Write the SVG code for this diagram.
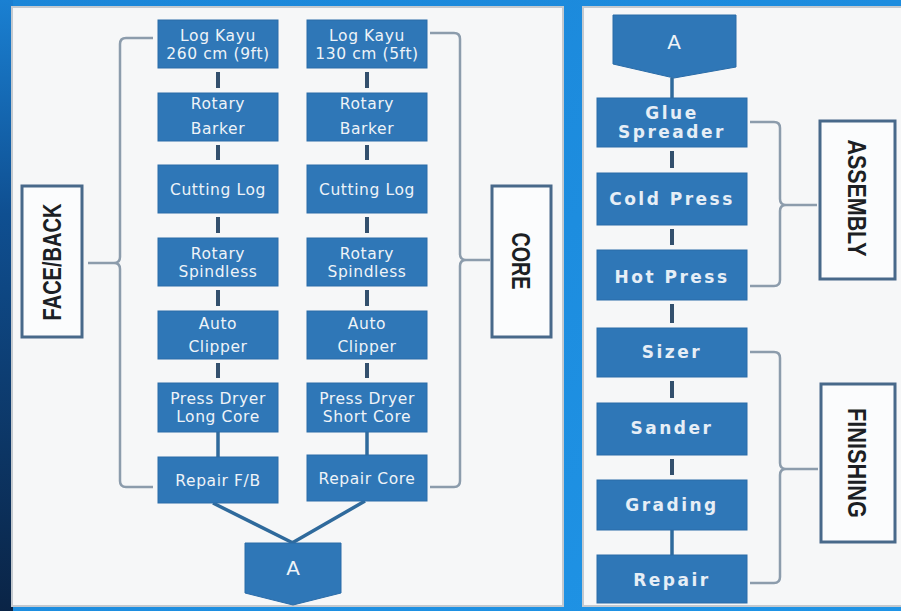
<svg xmlns="http://www.w3.org/2000/svg" width="901" height="611" viewBox="0 0 901 611">
<defs>
<linearGradient id="bg" x1="0" y1="0" x2="1" y2="1">
<stop offset="0" stop-color="#1b86d8"/>
<stop offset="1" stop-color="#1f94e6"/>
</linearGradient>
<linearGradient id="edge" x1="0" y1="0" x2="0" y2="1">
<stop offset="0" stop-color="#1a80d2"/>
<stop offset="0.35" stop-color="#0f4f91"/>
<stop offset="1" stop-color="#0a2446"/>
</linearGradient>
<style>
.box{fill:#2f77b7;stroke:#2a6ca8;stroke-width:1}
.t{font-family:"DejaVu Sans",sans-serif;font-size:15.5px;fill:#eef3f8;text-anchor:middle;letter-spacing:0.6px}
.tr{font-family:"DejaVu Sans",sans-serif;font-size:17px;font-weight:bold;fill:#e6eef6;text-anchor:middle;letter-spacing:2.5px}
.ta{font-family:"DejaVu Sans",sans-serif;font-size:20px;fill:#eef3f8;text-anchor:middle}
.lbl{fill:#fbfcfd;stroke:#48698a;stroke-width:3}
.lt{font-family:"Liberation Sans",Arial,sans-serif;font-size:25px;font-weight:bold;fill:#1c1f24;text-anchor:middle}
.br{fill:none;stroke:#8c9cac;stroke-width:2.5;stroke-linejoin:round}
.c{stroke:#33506d;stroke-width:4;fill:none}
.cs{stroke:#2f6a9c;stroke-width:3.5;fill:none}
.panel{fill:#f6f7f8;stroke:#c3c9cf;stroke-width:2}
</style>
</defs>
<rect x="0" y="0" width="901" height="611" fill="url(#bg)"/>
<rect x="0" y="0" width="13" height="611" fill="url(#edge)"/>
<rect class="panel" x="12" y="7" width="551" height="599"/>
<rect class="panel" x="583" y="7" width="330" height="599"/>

<g id="connectors">
<path class="c" d="M218,72 V88 M218,145 V160 M218,217 V233 M218,290 V306 M218,363 V378"/>
<path class="cs" d="M218,432 V457"/>
<path class="c" d="M367,72 V88 M367,145 V160 M367,217 V233 M367,290 V306 M367,363 V378"/>
<path class="cs" d="M367,432 V455"/>
<path class="cs" d="M213,503 L293,543 M365,501 L292,543"/>
<path class="cs" d="M672,78 V98"/>
<path class="c" d="M672,151 V168 M672,229 V245 M672,304 V323 M672,381 V398 M672,459 V475"/>
<path class="cs" d="M672,530 V555"/>
<path class="br" d="M153,38 H126 Q120,38 120,44 V257 Q120,263 114,263 Q120,263 120,269 V481 Q120,487 126,487 H153 M114,263 H88"/>
<path class="br" d="M430,33 H454 Q460,33 460,39 V254 Q460,260 466,260 Q460,260 460,266 V481 Q460,487 454,487 H430 M466,260 H490"/>
<path class="br" d="M750,122 H774 Q780,122 780,128 V199 Q780,205 786,205 Q780,205 780,211 V280 Q780,286 774,286 H750 M786,205 H817"/>
<path class="br" d="M750,352 H774 Q780,352 780,358 V463 Q780,469 786,469 Q780,469 780,475 V577 Q780,583 774,583 H750 M786,469 H818"/>
</g>

<g id="n-logkayu260"><rect class="box" x="158" y="20" width="120" height="48"/><text class="t" x="218" y="41">Log Kayu</text><text class="t" x="218" y="59">260 cm (9ft)</text></g>
<g id="n-rotarybarker-fb"><rect class="box" x="158" y="93" width="120" height="48"/><text class="t" x="218" y="109">Rotary</text><text class="t" x="218" y="134">Barker</text></g>
<g id="n-cuttinglog-fb"><rect class="box" x="158" y="165" width="120" height="48"/><text class="t" x="218" y="195">Cutting Log</text></g>
<g id="n-spindless-fb"><rect class="box" x="158" y="238" width="120" height="48"/><text class="t" x="218" y="259">Rotary</text><text class="t" x="218" y="277">Spindless</text></g>
<g id="n-clipper-fb"><rect class="box" x="158" y="311" width="120" height="48"/><text class="t" x="218" y="329">Auto</text><text class="t" x="218" y="352">Clipper</text></g>
<g id="n-pressdryer-long"><rect class="box" x="158" y="383" width="120" height="49"/><text class="t" x="218" y="404">Press Dryer</text><text class="t" x="218" y="422">Long Core</text></g>
<g id="n-repair-fb"><rect class="box" x="158" y="457" width="120" height="46"/><text class="t" x="218" y="486">Repair F/B</text></g>

<g id="n-logkayu130"><rect class="box" x="307" y="20" width="120" height="48"/><text class="t" x="367" y="41">Log Kayu</text><text class="t" x="367" y="59">130 cm (5ft)</text></g>
<g id="n-rotarybarker-core"><rect class="box" x="307" y="93" width="120" height="48"/><text class="t" x="367" y="109">Rotary</text><text class="t" x="367" y="134">Barker</text></g>
<g id="n-cuttinglog-core"><rect class="box" x="307" y="165" width="120" height="48"/><text class="t" x="367" y="195">Cutting Log</text></g>
<g id="n-spindless-core"><rect class="box" x="307" y="238" width="120" height="48"/><text class="t" x="367" y="259">Rotary</text><text class="t" x="367" y="277">Spindless</text></g>
<g id="n-clipper-core"><rect class="box" x="307" y="311" width="120" height="48"/><text class="t" x="367" y="329">Auto</text><text class="t" x="367" y="352">Clipper</text></g>
<g id="n-pressdryer-short"><rect class="box" x="307" y="383" width="120" height="49"/><text class="t" x="367" y="404">Press Dryer</text><text class="t" x="367" y="422">Short Core</text></g>
<g id="n-repair-core"><rect class="box" x="307" y="455" width="120" height="46"/><text class="t" x="367" y="484">Repair Core</text></g>

<g id="n-a-out"><polygon class="box" points="245,543 341,543 341,593 293,605 245,593"/><text class="ta" x="293" y="575">A</text></g>

<g id="n-facebackl"><rect class="lbl" x="22" y="186" width="60" height="151"/><text class="lt" transform="translate(61,262) rotate(-90)" x="0" y="0" textLength="117" lengthAdjust="spacingAndGlyphs">FACE/BACK</text></g>
<g id="n-corel"><rect class="lbl" x="492" y="186" width="59" height="151"/><text class="lt" transform="translate(512,261) rotate(90)" x="0" y="0" textLength="57" lengthAdjust="spacingAndGlyphs">CORE</text></g>

<g id="n-a-in"><polygon class="box" points="613,15 736,15 736,67 674,78 613,64"/><text class="ta" x="674" y="49">A</text></g>
<g id="n-glue"><rect class="box" x="597" y="98" width="150" height="49"/><text class="tr" x="672" y="119">Glue</text><text class="tr" x="672" y="138">Spreader</text></g>
<g id="n-cold"><rect class="box" x="597" y="173" width="150" height="52"/><text class="tr" x="672" y="205">Cold Press</text></g>
<g id="n-hot"><rect class="box" x="597" y="250" width="150" height="50"/><text class="tr" x="672" y="283">Hot Press</text></g>
<g id="n-sizer"><rect class="box" x="597" y="328" width="150" height="49"/><text class="tr" x="672" y="358">Sizer</text></g>
<g id="n-sander"><rect class="box" x="597" y="403" width="150" height="52"/><text class="tr" x="672" y="434">Sander</text></g>
<g id="n-grading"><rect class="box" x="597" y="480" width="150" height="50"/><text class="tr" x="672" y="511">Grading</text></g>
<g id="n-repair"><rect class="box" x="597" y="555" width="150" height="48"/><text class="tr" x="672" y="586">Repair</text></g>

<g id="n-assembly"><rect class="lbl" x="820" y="121" width="75" height="158"/><text class="lt" transform="translate(848,198) rotate(90)" x="0" y="0" textLength="117" lengthAdjust="spacingAndGlyphs">ASSEMBLY</text></g>
<g id="n-finishing"><rect class="lbl" x="821" y="384" width="74" height="158"/><text class="lt" transform="translate(848,463) rotate(90)" x="0" y="0" textLength="110" lengthAdjust="spacingAndGlyphs">FINISHING</text></g>
</svg>
